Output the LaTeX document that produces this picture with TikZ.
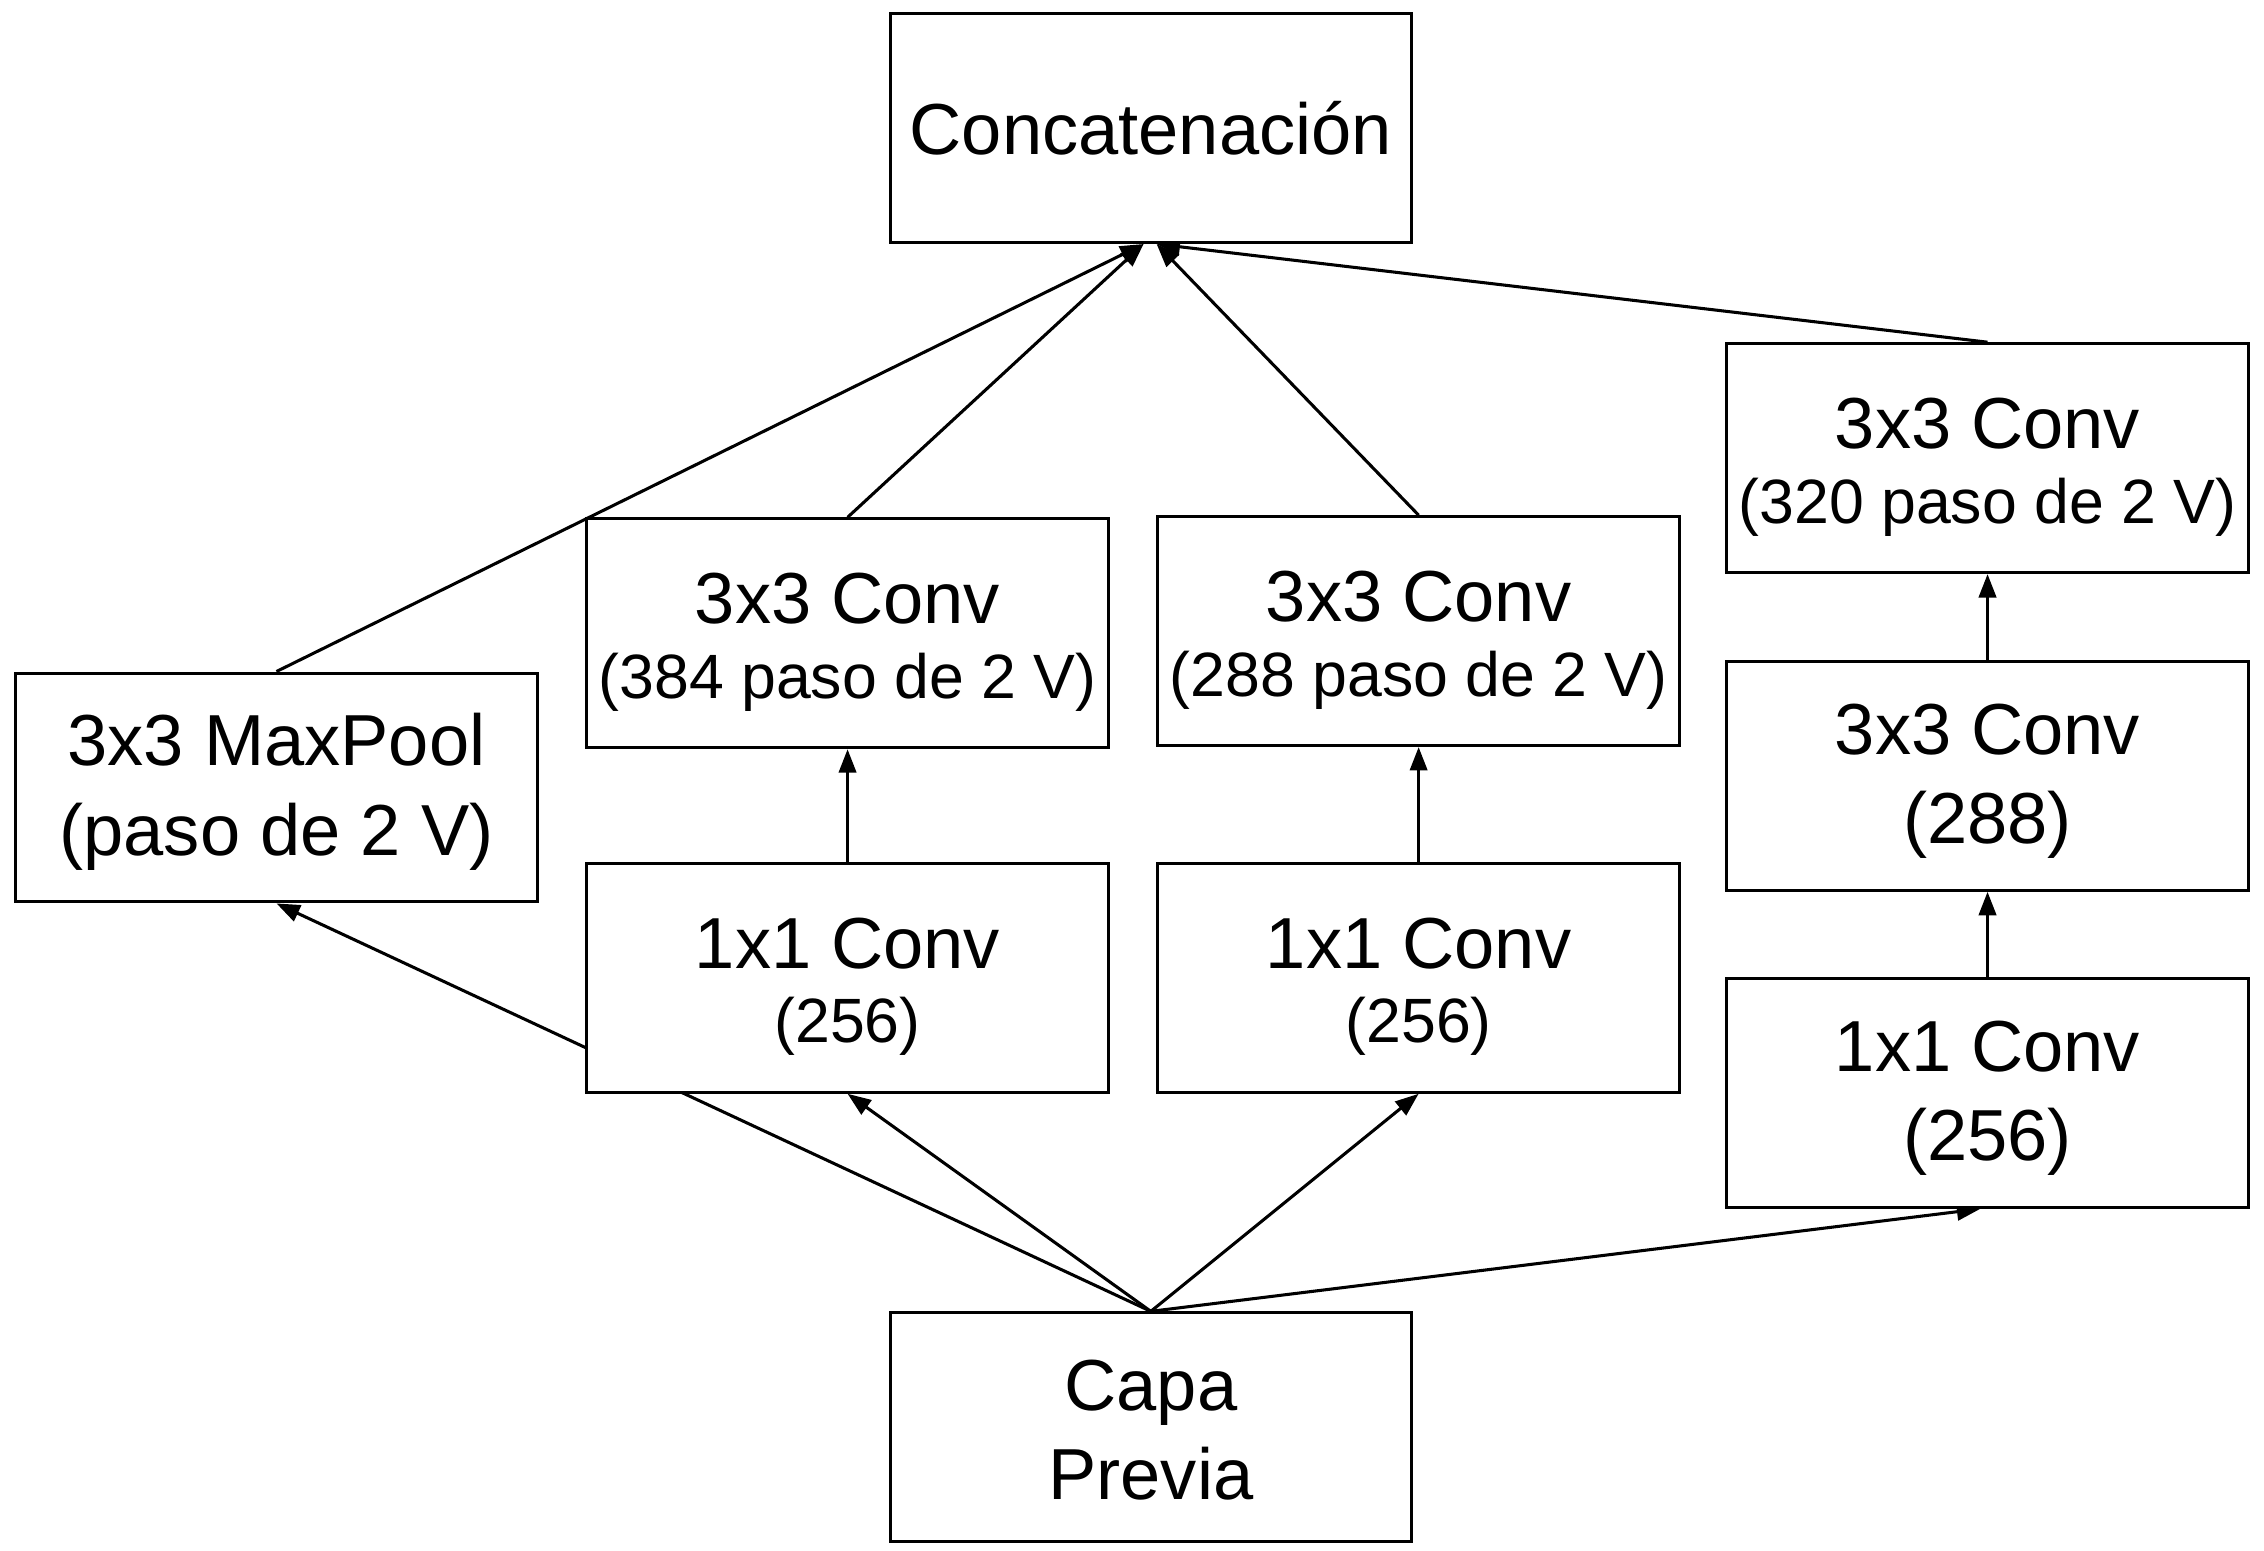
\documentclass[tikz,border=0pt]{standalone}
\usepackage{fontspec}
\setmainfont{Liberation Sans}
\usepackage{tikz}
\usetikzlibrary{arrows.meta,backgrounds}

\newcommand{\smalltxt}[1]{{\fontsize{12.3}{15}\selectfont #1}}
\newcommand{\tallrow}[1]{\rule{0pt}{#1}}

\tikzset{
  block/.style={draw, line width=0.6pt, fill=white, minimum width=3.6cm, minimum height=1.58cm,
    align=center, inner sep=0pt, font=\fontsize{14.2}{17.5}\selectfont},
  flow/.style={line width=0.6pt, -{Triangle[length=4.6pt,width=3.4pt]}}
}

\begin{document}
\begin{tikzpicture}
\begin{scope}[x=0.01cm, y=-0.01cm]

\useasboundingbox (0,0) rectangle (1564,1071);

\node[block] (concat) at (795,88.5) {Concatenación};

\node[block] (maxpool) at (191,544) {\tallrow{12pt}3x3 MaxPool\\(paso de 2 V)};
\node[block] (conv3a) at (585.5,437.5) {\tallrow{13.4pt}3x3 Conv\\[-2.8pt]\smalltxt{(384 paso de 2 V)}};
\node[block] (conv3b) at (980,436) {\tallrow{13.4pt}3x3 Conv\\[-2.8pt]\smalltxt{(288 paso de 2 V)}};
\node[block] (conv1a) at (585.5,675.5) {\tallrow{13.4pt}1x1 Conv\\[-2.8pt]\smalltxt{(256)}};
\node[block] (conv1b) at (980,675.5) {\tallrow{13.4pt}1x1 Conv\\[-2.8pt]\smalltxt{(256)}};

\node[block] (conv3c) at (1373,316.5) {\tallrow{13.4pt}3x3 Conv\\[-2.8pt]\smalltxt{(320 paso de 2 V)}};
\node[block] (conv3d) at (1373,536) {\tallrow{12pt}3x3 Conv\\(288)};
\node[block] (conv1c) at (1373,755) {\tallrow{12pt}1x1 Conv\\(256)};

\node[block] (capa) at (795,986) {\tallrow{11pt}Capa\\Previa};

\begin{scope}[on background layer]
% desde la capa previa
\draw[flow] (capa.north) -- (maxpool.south);
\draw[flow] (capa.north) -- (conv1a.south);
\draw[flow] (capa.north) -- (conv1b.south);
\draw[flow] (capa.north) -- ([xshift=-0.05cm]conv1c.south);

% dentro de cada rama
\draw[flow] (conv1a.north) -- (conv3a.south);
\draw[flow] (conv1b.north) -- (conv3b.south);
\draw[flow] (conv1c.north) -- (conv3d.south);
\draw[flow] (conv3d.north) -- (conv3c.south);

% hacia la concatenacion
\draw[flow] (maxpool.north) -- ([xshift=-0.05cm]concat.south);
\draw[flow] (conv3a.north) -- ([xshift=-0.05cm]concat.south);
\draw[flow] (conv3b.north) -- ([xshift=0.04cm]concat.south);
\draw[flow] (conv3c.north) -- ([xshift=0.04cm]concat.south);
\end{scope}

\end{scope}
\end{tikzpicture}
\end{document}
